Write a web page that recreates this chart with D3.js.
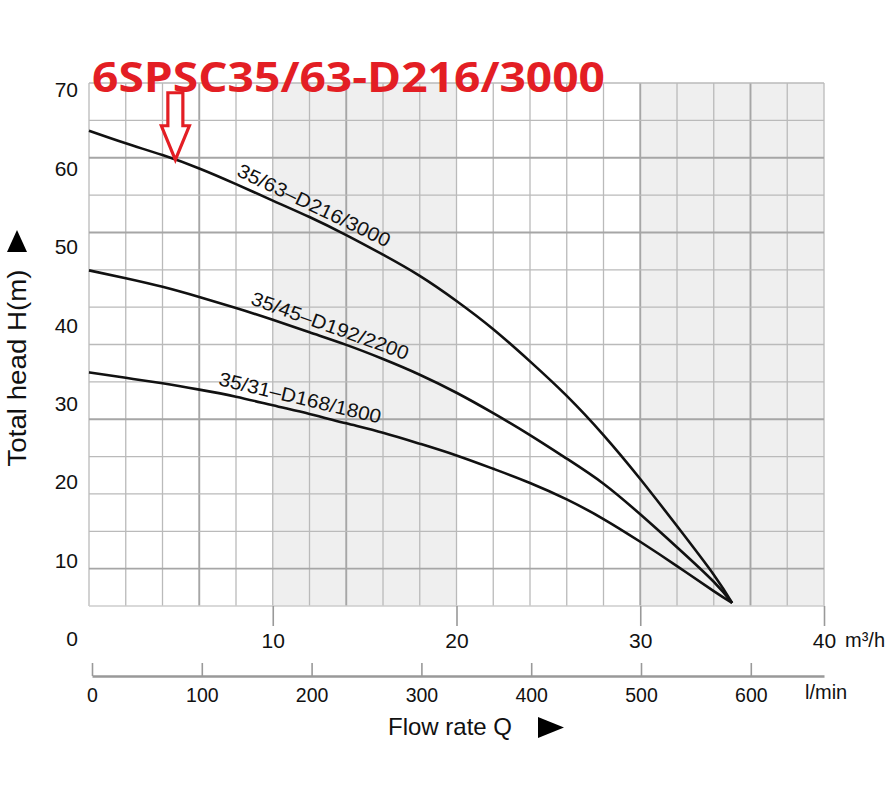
<!DOCTYPE html>
<html>
<head>
<meta charset="utf-8">
<script src="https://cdn.jsdelivr.net/npm/d3@7"></script>
<style>
  body { margin: 0; background: #fff; }
  svg { display: block; font-family: "Liberation Sans", Arial, Helvetica, sans-serif; }
</style>
</head>
<body>
<svg id="chart" width="892" height="800"></svg>
<script>
// values
const title = '6SPSC35/63-D216/3000';
const flow = [0, 2, 4, 6, 8, 10, 12, 14, 16, 18, 20, 22, 24, 26, 28, 30, 32, 34, 35];
const head3000 = [64.8, 63.2, 61.7, 60.0, 58.0, 55.9, 53.8, 51.5, 49.0, 46.3, 43.1, 39.5, 35.4, 31.0, 26.0, 20.4, 14.4, 8.2, 4.6];
const head2200 = [47.0, 46.0, 44.9, 43.6, 42.2, 40.7, 39.1, 37.5, 35.7, 33.7, 31.4, 28.8, 26.0, 23.0, 19.8, 15.9, 11.7, 7.3, 4.6];
const head1800 = [34.0, 33.3, 32.6, 31.8, 30.9, 29.8, 28.7, 27.5, 26.3, 24.9, 23.4, 21.7, 19.9, 17.8, 15.3, 12.4, 9.3, 6.1, 4.6];
const curveNames = ['35/63–D216/3000', '35/45–D192/2200', '35/31–D168/1800'];
const labelFrom = [7.8, 8.6, 6.9];
const labelTo = [16.0, 17.1, 15.7];
const headTicks = [0, 10, 20, 30, 40, 50, 60, 70];
const flowTicks = [10, 20, 30, 40];
const lminTicks = [0, 100, 200, 300, 400, 500, 600];
const shadedBands = [[10, 20], [30, 40]];
const markedFlow = 4.7;

const svg = d3.select('#chart');

const x = d3.scaleLinear().domain([0, 40]).range([89, 824]);
const y = d3.scaleLinear().domain([0, 70]).range([639, 90]);
const xl = d3.scaleLinear().domain([0, 40000 / 60]).range([92, 824]);
const plotTop = 83, plotBottom = 606;

// shaded columns
svg.append('g').selectAll('rect').data(shadedBands).join('rect')
  .attr('x', d => x(d[0])).attr('width', d => x(d[1]) - x(d[0]))
  .attr('y', plotTop).attr('height', plotBottom - plotTop)
  .attr('fill', '#efefef');

// grid
const cols = d3.range(0, 41, 2);
const rows = d3.range(15).map(i => plotBottom - i * (plotBottom - plotTop) / 14);
const heavyCols = [6, 14, 30, 36];
const heavyRows = [1, 5, 10, 12];
const grid = svg.append('g');
grid.selectAll('.v').data(cols).join('line')
  .attr('x1', d => x(d)).attr('x2', d => x(d))
  .attr('y1', plotTop).attr('y2', plotBottom)
  .attr('stroke', d => heavyCols.includes(d) ? '#a6a6a6' : '#bababa')
  .attr('stroke-width', d => heavyCols.includes(d) ? 1.9 : 1.3);
grid.selectAll('.h').data(rows).join('line')
  .attr('x1', x(0)).attr('x2', x(40))
  .attr('y1', d => d).attr('y2', d => d)
  .attr('stroke', (d, i) => i === 0 ? '#cccccc' : heavyRows.includes(i) ? '#a6a6a6' : '#bababa')
  .attr('stroke-width', (d, i) => heavyRows.includes(i) ? 1.9 : 1.3);

// axes
const yAxis = svg.append('g').attr('transform', 'translate(89,0)')
  .call(d3.axisLeft(y).tickValues(headTicks).tickSize(0).tickPadding(11));
yAxis.select('.domain').remove();

const xAxis = svg.append('g').attr('transform', `translate(0,${plotBottom})`)
  .call(d3.axisBottom(x).tickValues(flowTicks).tickSize(20).tickPadding(7));
xAxis.select('.domain').remove();

const lAxis = svg.append('g').attr('transform', 'translate(0,676)')
  .call(d3.axisBottom(xl).tickValues(lminTicks).tickSizeInner(-13).tickSizeOuter(0).tickPadding(12));
lAxis.select('.domain').attr('stroke', '#999').attr('stroke-width', 2.5);

svg.selectAll('.tick line').attr('stroke', '#999').attr('stroke-width', 1.6);
svg.selectAll('.tick text')
  .attr('font-family', '"Liberation Sans", Arial, sans-serif')
  .attr('fill', '#111');
yAxis.selectAll('text').attr('font-size', 21);
xAxis.selectAll('text').attr('font-size', 21);
lAxis.selectAll('text').attr('font-size', 19.5);

// curves
const series = [head3000, head2200, head1800].map(h => flow.map((q, i) => [q, h[i]]));
const line = d3.line().x(d => x(d[0])).y(d => y(d[1])).curve(d3.curveNatural);
svg.append('g').selectAll('path').data(series).join('path')
  .attr('d', line)
  .attr('fill', 'none')
  .attr('stroke', '#111')
  .attr('stroke-width', 2.6)
  .attr('stroke-linejoin', 'round');

function headAt(s, q) {
  const i = Math.min(d3.bisectLeft(flow, q), flow.length - 1);
  if (i === 0) return s[0][1];
  const a = s[i - 1], b = s[i];
  return a[1] + (b[1] - a[1]) * (q - a[0]) / (b[0] - a[0]);
}

// curve labels
series.forEach((s, k) => {
  const x0 = x(labelFrom[k]), y0 = y(headAt(s, labelFrom[k]));
  const x1 = x(labelTo[k]), y1 = y(headAt(s, labelTo[k]));
  const ang = Math.atan2(y1 - y0, x1 - x0);
  const len = Math.hypot(x1 - x0, y1 - y0);
  const off = 8;
  const px = x0 + Math.sin(ang) * off, py = y0 - Math.cos(ang) * off;
  svg.append('text')
    .attr('transform', `translate(${px},${py}) rotate(${ang * 180 / Math.PI})`)
    .attr('font-size', 19.5)
    .attr('fill', '#111')
    .attr('textLength', len)
    .attr('lengthAdjust', 'spacingAndGlyphs')
    .text(curveNames[k]);
});

// axis titles and units
svg.append('text').attr('x', 845).attr('y', 647).attr('font-size', 20).attr('fill', '#111').text('m³/h');
svg.append('text').attr('x', 805).attr('y', 699).attr('font-size', 20).attr('fill', '#111').text('l/min');
svg.append('text').attr('x', 388).attr('y', 735).attr('font-size', 24).attr('fill', '#111').text('Flow rate Q');
svg.append('path').attr('d', 'M538,717L564,727.5L538,738Z').attr('fill', '#000');
svg.append('text')
  .attr('transform', 'translate(26,368) rotate(-90)')
  .attr('text-anchor', 'middle')
  .attr('font-size', 25)
  .attr('fill', '#111')
  .attr('textLength', 197)
  .attr('lengthAdjust', 'spacingAndGlyphs')
  .text('Total head H(m)');
svg.append('path').attr('d', 'M7,252L17,230L27,252Z').attr('fill', '#000');

// red title and arrow
svg.append('text')
  .attr('x', 92).attr('y', 92)
  .attr('font-family', '"Open Sans", "Noto Sans", sans-serif')
  .attr('font-weight', 'bold')
  .attr('font-size', 41)
  .attr('fill', '#e31e24')
  .attr('textLength', 513)
  .attr('lengthAdjust', 'spacingAndGlyphs')
  .text(title);

const tx = x(markedFlow), ty = y(headAt(series[0], markedFlow));
svg.append('path')
  .attr('d', `M${tx - 7.5},${ty - 67}L${tx + 7.5},${ty - 67}L${tx + 7.5},${ty - 34}L${tx + 14},${ty - 34}L${tx},${ty}L${tx - 14},${ty - 34}L${tx - 7.5},${ty - 34}Z`)
  .attr('fill', '#fff')
  .attr('stroke', '#e31e24')
  .attr('stroke-width', 3.2)
  .attr('stroke-linejoin', 'miter');
</script>
</body>
</html>
